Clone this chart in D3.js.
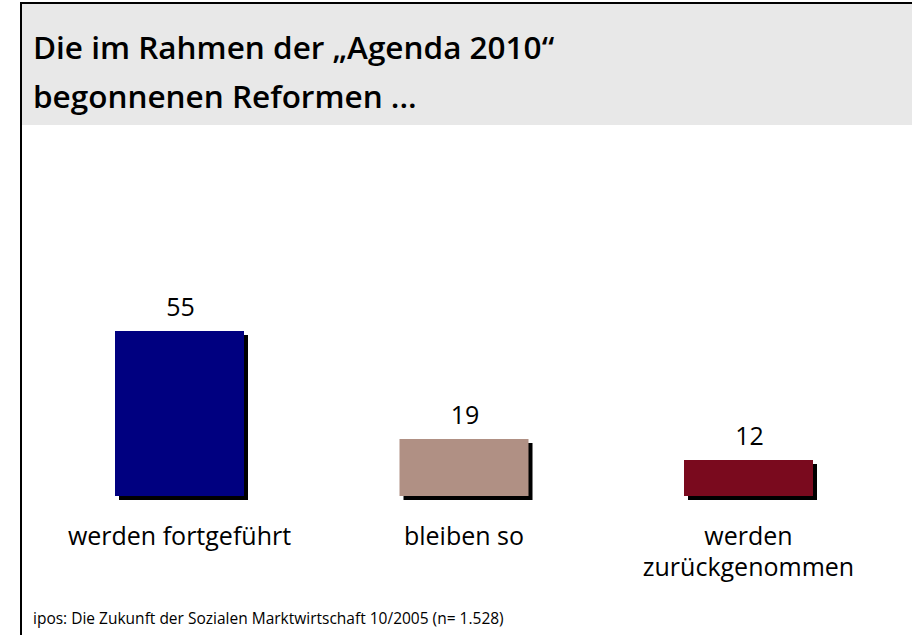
<!DOCTYPE html>
<html>
<head>
<meta charset="utf-8">
<script src="https://cdn.jsdelivr.net/npm/d3@7"></script>
<style>
  html, body { margin: 0; padding: 0; background: #fff; }
  text { font-family: "Open Sans", "Noto Sans", sans-serif; fill: #000; }
</style>
</head>
<body>
<div id="container"></div>
<script>
const categories = ["werden fortgeführt", "bleiben so", "werden zurückgenommen"];
const labelLines = [["werden fortgeführt"], ["bleiben so"], ["werden", "zurückgenommen"]];
const values = [55, 19, 12];
const colors = ["#000080", "#b09084", "#7a0a1e"];
const titleLines = ["Die im Rahmen der „Agenda 2010“", "begonnenen Reformen ..."];
const source = "ipos: Die Zukunft der Sozialen Marktwirtschaft 10/2005 (n= 1.528)";

const width = 912;
const height = 635;
const barWidth = 129;
const shadow = 4;

const svg = d3.select("#container")
  .append("svg")
  .attr("width", width)
  .attr("height", height);

// header
svg.append("rect")
  .attr("x", 21).attr("y", 3)
  .attr("width", width - 21).attr("height", 122)
  .attr("fill", "#e8e8e8");

svg.append("line")
  .attr("x1", 20).attr("x2", width)
  .attr("y1", 3).attr("y2", 3)
  .attr("stroke", "#000").attr("stroke-width", 2);

svg.append("line")
  .attr("x1", 21).attr("x2", 21)
  .attr("y1", 2).attr("y2", height)
  .attr("stroke", "#000").attr("stroke-width", 2);

svg.append("g")
  .selectAll("text")
  .data(titleLines)
  .join("text")
  .attr("x", 33)
  .attr("y", (d, i) => 59 + i * 49)
  .attr("font-size", 31.5)
  .attr("font-weight", 600)
  .text(d => d);

const x = d3.scalePoint()
  .domain(categories)
  .range([179.5, 748.5]);

const y = d3.scaleLinear()
  .domain([0, 55])
  .range([496, 331]);

const bars = svg.append("g");

// shadows
bars.selectAll("rect.shadow")
  .data(values)
  .join("rect")
  .attr("class", "shadow")
  .attr("x", (d, i) => x(categories[i]) - barWidth / 2 + shadow)
  .attr("y", d => y(d) + shadow)
  .attr("width", barWidth)
  .attr("height", d => y(0) - y(d))
  .attr("fill", "#000");

bars.selectAll("rect.bar")
  .data(values)
  .join("rect")
  .attr("class", "bar")
  .attr("x", (d, i) => x(categories[i]) - barWidth / 2)
  .attr("y", d => y(d))
  .attr("width", barWidth)
  .attr("height", d => y(0) - y(d))
  .attr("fill", (d, i) => colors[i]);

bars.selectAll("text.value")
  .data(values)
  .join("text")
  .attr("class", "value")
  .attr("x", (d, i) => x(categories[i]) + 1)
  .attr("y", d => y(d) - 15)
  .attr("text-anchor", "middle")
  .attr("font-size", 25)
  .text(d => d);

const labels = svg.append("g")
  .selectAll("text")
  .data(labelLines)
  .join("text")
  .attr("x", (d, i) => x(categories[i]))
  .attr("y", 545)
  .attr("text-anchor", "middle")
  .attr("font-size", 25);

labels.selectAll("tspan")
  .data(d => d)
  .join("tspan")
  .attr("x", function () { return d3.select(this.parentNode).attr("x"); })
  .attr("dy", (d, i) => i === 0 ? 0 : 31)
  .text(d => d);

svg.append("text")
  .attr("x", 33)
  .attr("y", 624)
  .attr("font-size", 15.5)
  .text(source);
</script>
</body>
</html>
